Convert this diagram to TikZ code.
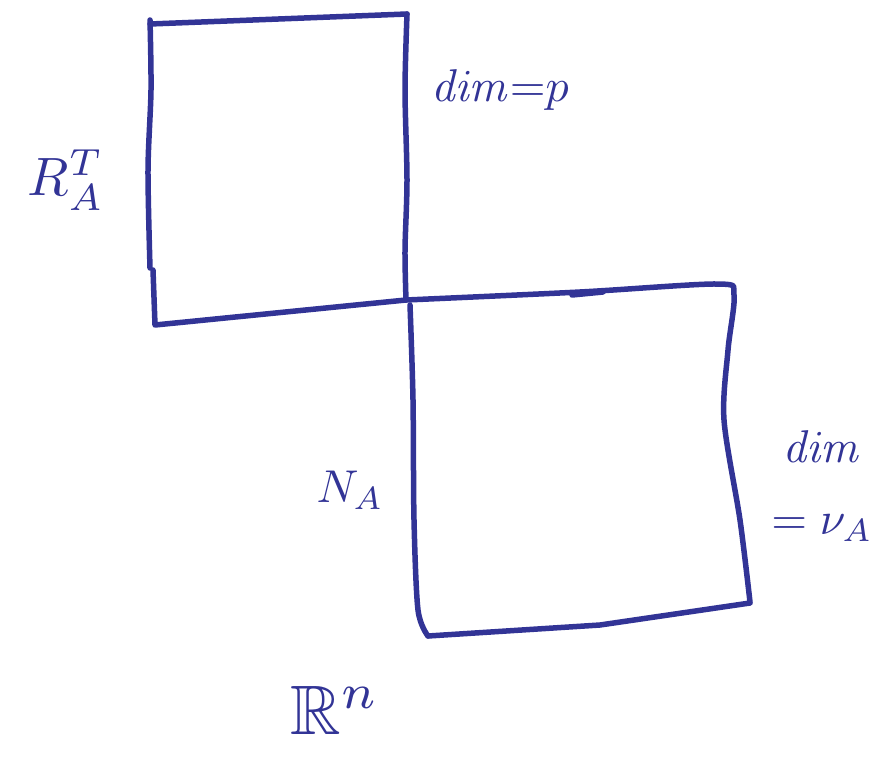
\documentclass[tikz,border=0pt]{standalone}
\usepackage{graphicx}
\usepackage{amssymb}
\definecolor{ink}{RGB}{50,52,150}
\newcommand{\lbltxt}[2][4.6]{\scalebox{#1}{#2}}
\tikzset{
  stroke/.style={draw=ink, line width=5.5pt, line cap=round, line join=round},
  lbl/.style={text=ink, inner sep=0pt}
}
\begin{document}
\begin{tikzpicture}[x=1pt,y=-1pt]
\useasboundingbox (0,0) rectangle (890,762);
% upper square
\draw[stroke] plot[smooth, tension=0.5] coordinates {(150,20) (151,90) (148,170) (150,268)};
\draw[stroke] (150,24) -- (407,14);
\draw[stroke] plot[smooth, tension=0.5] coordinates {(407,14) (405,90) (407,180) (405,250) (406,300)};
\draw[stroke] (153,270) -- (155,325) -- (406,300);
% lower square
\draw[stroke] plot[smooth, tension=0.5] coordinates {(406,300) (580,292) (718,284) (734,295) (728,350) (724,420) (740,520) (750,602)};
\draw[stroke] (572,295) -- (603,292);
\draw[stroke] plot[smooth, tension=0.5] coordinates {(410,305) (413,400) (414,520) (418,610) (428,636)};
\draw[stroke] (428,636) -- (600,625) -- (750,603);
% labels
\node[lbl] (rat) at (66,180) {\lbltxt[5.4]{$R_A^T$}};
\node[lbl] (dimp) at (500,90) {\lbltxt{$\mathit{dim}{=}p$}};
\node[lbl] (na) at (350,490) {\lbltxt{$N_A$}};
\node[lbl] (dimv) at (822,447) {\lbltxt{$\mathit{dim}$}};
\node[lbl] (eqv) at (822,528) {\lbltxt{$=\nu_A$}};
\node[lbl] (rn) at (335,710) {\lbltxt[7]{$\mathbb{R}^n$}};
\end{tikzpicture}
\end{document}
